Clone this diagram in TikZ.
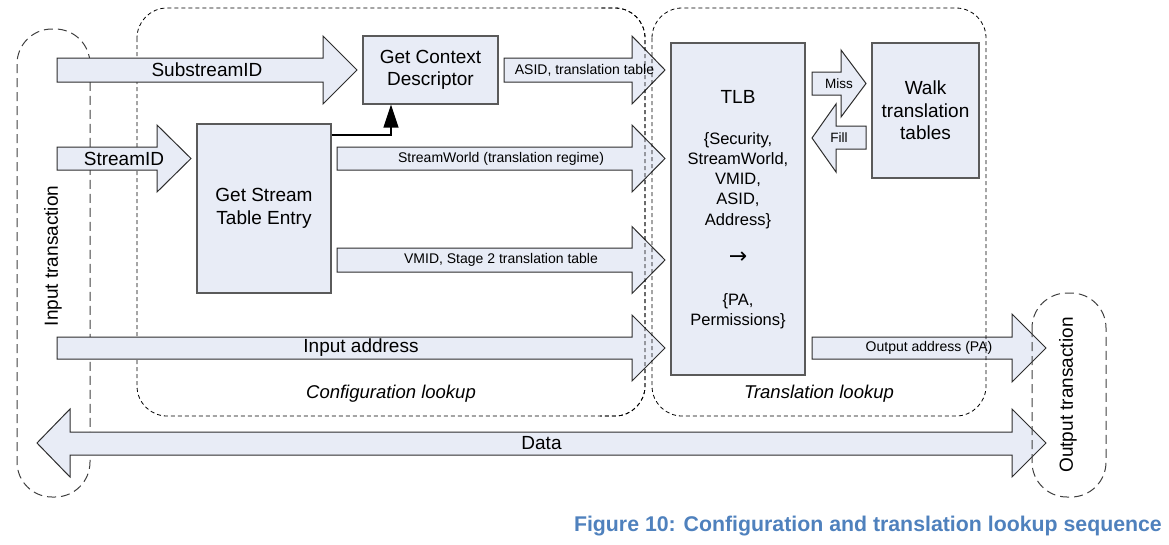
\documentclass[tikz,border=0pt]{standalone}
\usepackage{fontspec}
\setmainfont{Liberation Sans}
\newfontfamily\symfont{DejaVu Sans}
\usetikzlibrary{arrows.meta}
\definecolor{boxfill}{RGB}{232,236,246}
\definecolor{boxline}{RGB}{90,90,90}
\definecolor{arrline}{RGB}{45,45,45}
\definecolor{capblue}{RGB}{79,129,189}
\newcommand\fsz[2]{\fontsize{#1}{#2}\selectfont}
% name, x start, x head base, x tip, y centre, shaft half, head half
\newcommand\rblockarrow[7]{%
  \filldraw[arr] (#2,#5-#6) -- (#3,#5-#6) -- (#3,#5-#7) -- (#4,#5)
    -- (#3,#5+#7) -- (#3,#5+#6) -- (#2,#5+#6) -- cycle;
  \coordinate (#1) at ({(#2+#4)/2},#5);}
\tikzset{
  blk/.style={draw=boxline, fill=boxfill, line width=1.3pt, inner sep=0pt},
  arr/.style={draw=arrline, fill=boxfill, line width=1pt, line join=miter},
  grp/.style={draw=black, line width=0.8pt, dash pattern=on 4pt off 3pt, rounded corners=30pt},
  trn/.style={draw=black!75, line width=1pt, dash pattern=on 9pt off 5pt, rounded corners=35pt},
  big/.style={font=\fsz{19}{22.5}, inner sep=0pt, align=center},
  lbl/.style={font=\fsz{14}{17}, inner sep=0pt},
  mid/.style={font=\fsz{16.5}{20.2}, inner sep=0pt, align=center},
}
\begin{document}
\begin{tikzpicture}[x=1pt,y=-1pt]
\useasboundingbox (0,0) rectangle (1169,544);

% bottom layer of dashed groups
\draw[trn] (17,29) rectangle (90,497);
\draw[grp] (137,8) rectangle (645,416);

% block arrows
\rblockarrow{subA}{57}{323}{357}{70}{12}{34}
\rblockarrow{strA}{57}{157}{191}{158.5}{11.5}{33.5}
\rblockarrow{asidA}{504}{632}{665}{70}{12}{34}
\rblockarrow{swA}{337}{632}{665}{158.5}{11.5}{33.5}
\rblockarrow{vmidA}{337}{632}{665}{260}{12}{33.5}
\rblockarrow{inA}{57}{632}{665}{348}{11}{33}
\rblockarrow{outA}{812}{1012}{1046}{348}{11}{34}
\rblockarrow{missA}{812}{841}{866}{83.5}{11.5}{33.5}
\filldraw[arr] (866,126) -- (836,126) -- (836,104) -- (812,138) -- (836,172)
  -- (836,149) -- (866,149) -- cycle;
\coordinate (fillA) at (839,138);
\filldraw[arr] (37,443) -- (70,409) -- (70,432) -- (1012,432) -- (1012,409)
  -- (1046,443) -- (1012,477) -- (1012,455) -- (70,455) -- (70,477) -- cycle;
\coordinate (dataA) at (541.5,443);

% arrow labels
\node[big] (tsub) at (subA) {SubstreamID};
\node[big] (tstr) at (strA) {StreamID};
\node[lbl] (tasid) at (asidA) {ASID, translation table};
\node[lbl] (tsw) at (swA) {StreamWorld (translation regime)};
\node[lbl] (tvmid) at (vmidA) {VMID, Stage 2 translation table};
\node[big] (tin) at (inA) {Input address};
\node[lbl] (tout) at (outA) {Output address (PA)};
\node[lbl, font=\fsz{13.5}{16}] (tmiss) at (missA) {Miss};
\node[lbl, font=\fsz{13.5}{16}] (tfill) at (fillA) {Fill};
\node[big] (tdata) at (dataA) {Data};

% boxes
\node[blk, big, minimum width=135pt, minimum height=68pt] (gcd) at (430.5,70) {Get Context\\Descriptor};
\node[blk, big, minimum width=134pt, minimum height=169pt] (gste) at (264,208.5) {Get Stream\\Table Entry};
\node[blk, minimum width=134pt, minimum height=332pt] (tlb) at (738,209) {};
\node[blk, big, minimum width=107pt, minimum height=135pt] (walk) at (925.5,110.5) {Walk\\translation\\tables};

\node[big] (tlbt) at (738,97) {TLB};
\node[mid] (tlbin) at (738,180.5) {\{Security,\\StreamWorld,\\VMID,\\ASID,\\Address\}};
\node[inner sep=0pt, font=\symfont\fsz{22}{24}] (tlbar) at (738,258) {→};
\node[mid] (tlbout) at (738,311) {\{PA,\\Permissions\}};

% connector from stream table entry to context descriptor
\coordinate (bend) at (391,135);
\draw[line width=1.5pt, -{Triangle[width=15pt,length=23pt]}]
  (gste.east |- bend) -- (bend) -- (gcd.south -| bend);

% top layer of dashed groups (over the arrow heads)
\begin{scope}
  \clip (600,0) rectangle (1169,544);
  \draw[grp] (137,8) rectangle (645,416);
\end{scope}
\draw[grp] (652,8) rectangle (986,416);
\draw[trn] (1032,293) rectangle (1106,497);

% group labels
\node[big, font=\fsz{18.5}{22.5}\itshape] (cfgl) at (391,394) {Configuration lookup};
\node[big, font=\fsz{18.5}{22.5}\itshape] (trl) at (819,394) {Translation lookup};
\node[big] [rotate=90] (intr) at (53,256) {Input transaction};
\node[big] [rotate=90] (outtr) at (1068,395) {Output transaction};

% caption
\node[anchor=east, inner sep=0pt, text=capblue, font=\fsz{21.3}{25}\bfseries] (cap) at (1162,526)
  {Figure 10: Configuration and translation lookup sequence};
\end{tikzpicture}
\end{document}
